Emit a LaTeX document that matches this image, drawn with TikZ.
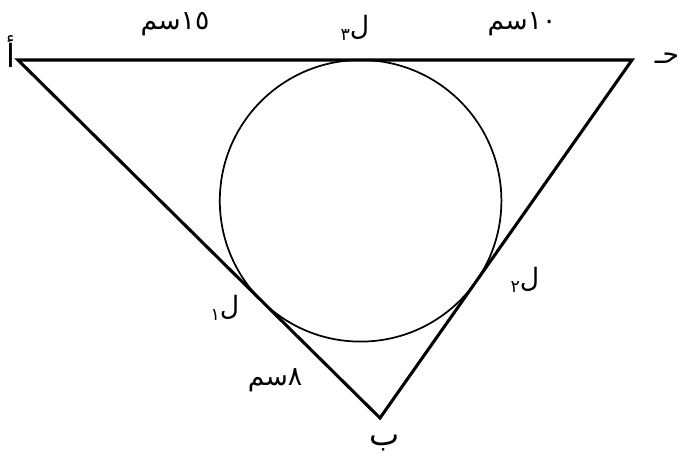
\documentclass[tikz,border=0pt]{standalone}
\usepackage{fontspec}
\newfontfamily\arabicfont[Script=Arabic]{DejaVu Sans}
\TeXXeTstate=1
\tikzset{
  edge/.style={line width=2.3pt, line join=miter},
  incircle/.style={line width=1.3pt},
  lbl/.style={font=\arabicfont\fontsize{20}{22}\selectfont, inner sep=0pt},
  big/.style={font=\arabicfont\fontsize{24}{26}\selectfont, inner sep=0pt}
}
\begin{document}
\begin{tikzpicture}[x=0.75pt,y=-0.75pt]
\useasboundingbox (0,0) rectangle (679,467);
\fill[white] (0,0) rectangle (679,467);
\coordinate (A) at (18,60);
\coordinate (C) at (632,60);
\coordinate (B) at (380,418);
\coordinate (O) at (360.6,200.8);
\draw[edge] (A) -- (C) -- (B) -- cycle;
\draw[incircle] (O) circle[radius=140.8];
\node[big] (la) at (11,52) {\beginR أ\endR};
\node[lbl] (lc) at (667,58) {\beginR حـ\endR};
\node[big] (lb) at (385,443) {\beginR ب\endR};
\node[lbl] (l15) at (175,24) {\beginR\beginL ١٥\endL سم\endR};
\node[lbl] (l10) at (522,24) {\beginR\beginL ١٠\endL سم\endR};
\node[lbl] (l8) at (275,380) {\beginR ٨سم\endR};
\node[lbl] (L3) at (355,28) {\beginR ل\raisebox{-0.35ex}{\fontsize{13}{15}\selectfont ٣}\endR};
\node[lbl] (L1) at (225,308) {\beginR ل\raisebox{-0.35ex}{\fontsize{13}{15}\selectfont ١}\endR};
\node[lbl] (L2) at (525,280) {\beginR ل\raisebox{-0.35ex}{\fontsize{13}{15}\selectfont ٢}\endR};
\end{tikzpicture}
\end{document}
